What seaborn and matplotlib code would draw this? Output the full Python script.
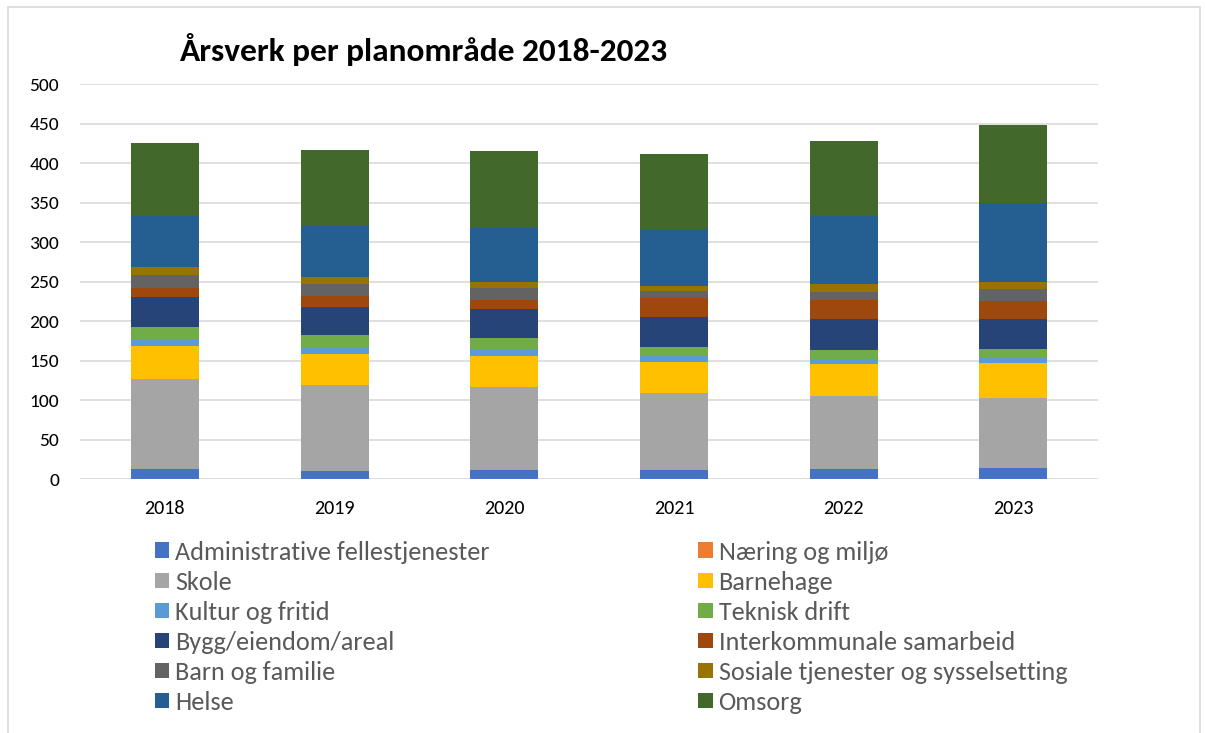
import numpy as np
import pandas as pd
import matplotlib.pyplot as plt
import seaborn as sns
from matplotlib.patches import Patch, Rectangle

sns.set_style("white")
plt.rcParams['font.family'] = ['Carlito', 'Liberation Sans Narrow', 'Liberation Sans', 'DejaVu Sans']

years = ['2018', '2019', '2020', '2021', '2022', '2023']

# Årsverk per planområde (bottom to top of each stack)
admin = [12.7, 10.5, 11.4, 11.4, 12.7, 14.3]
naering = [0.0, 0.0, 0.0, 0.0, 0.0, 0.0]
skole = [114.0, 109.0, 105.0, 97.5, 93.0, 88.7]
barnehage = [41.5, 38.5, 39.0, 39.0, 40.0, 43.8]
kultur = [8.0, 8.0, 8.0, 8.0, 6.5, 6.8]
teknisk = [16.0, 16.0, 15.5, 11.0, 11.5, 11.0]
bygg = [38.0, 35.5, 36.0, 38.0, 38.5, 38.5]
interkommunal = [12.0, 14.0, 11.5, 24.5, 25.0, 22.0]
barn_familie = [16.0, 15.5, 16.0, 8.5, 10.0, 15.0]
sosiale = [10.0, 8.5, 6.5, 6.0, 10.0, 9.0]
helse = [65.0, 65.0, 69.0, 72.5, 86.0, 100.0]
omsorg = [92.0, 96.0, 97.0, 95.0, 94.5, 99.5]

series = [
    ('Administrative fellestjenester', admin, '#4472C4'),
    ('Næring og miljø', naering, '#ED7D31'),
    ('Skole', skole, '#A5A5A5'),
    ('Barnehage', barnehage, '#FFC000'),
    ('Kultur og fritid', kultur, '#5B9BD5'),
    ('Teknisk drift', teknisk, '#70AD47'),
    ('Bygg/eiendom/areal', bygg, '#264478'),
    ('Interkommunale samarbeid', interkommunal, '#9E480E'),
    ('Barn og familie', barn_familie, '#636363'),
    ('Sosiale tjenester og sysselsetting', sosiale, '#997300'),
    ('Helse', helse, '#255E91'),
    ('Omsorg', omsorg, '#43682B'),
]

fig = plt.figure(figsize=(12.05, 7.33), dpi=100)
ax = fig.add_axes([0.0664, 0.3465, 0.845, 0.5389])

bottom = np.zeros(len(years))
for name, vals, color in series:
    df = pd.DataFrame({'year': years, 'value': vals})
    sns.barplot(data=df, x='year', y='value', order=years, color=color,
                width=0.4, bottom=bottom, ax=ax, errorbar=None,
                linewidth=0, saturation=1)
    bottom = bottom + np.array(vals)

ax.set_ylim(0, 500)
ax.set_xlim(-0.5, 5.5)
ax.set_yticks(np.arange(0, 501, 50))
ax.yaxis.grid(True, color='#D9D9D9', linewidth=1.2)
ax.set_axisbelow(True)
for s in ax.spines.values():
    s.set_visible(False)
ax.tick_params(axis='both', length=0, colors='#000000')
ax.tick_params(axis='x', pad=15, labelsize=14.5)
ax.tick_params(axis='y', pad=15, labelsize=14)
ax.set_xlabel('')
ax.set_ylabel('')

fig.text(0.149, 0.932, 'Årsverk per planområde 2018-2023', fontsize=24,
         fontweight='bold', ha='left', va='center', color='#000000')

# legend filled row by row like the original: reorder for column-wise filling
handles = [Patch(facecolor=c, edgecolor='none', label=n) for n, _, c in series]
order = list(range(0, 12, 2)) + list(range(1, 12, 2))
leg = fig.legend([handles[i] for i in order], [series[i][0] for i in order],
                 loc='upper left', bbox_to_anchor=(0.1286, 0.2626), ncol=2,
                 frameon=False, fontsize=18.8, handlelength=0.54, handleheight=0.54,
                 handletextpad=0.23, columnspacing=8.0, labelspacing=0.27,
                 borderaxespad=0, borderpad=0)
for t in leg.get_texts():
    t.set_color('#595959')

fig.patches.append(Rectangle((0.007, -0.01), 0.989, 1.0, transform=fig.transFigure,
                             fill=False, edgecolor='#D9D9D9', linewidth=1.2))

fig.savefig('out.png', dpi=100)
